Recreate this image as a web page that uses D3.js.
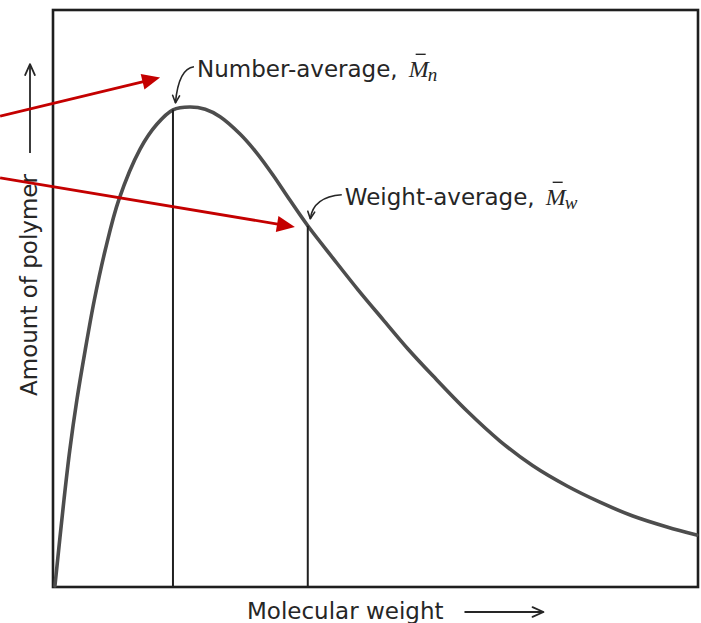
<!DOCTYPE html>
<html><head><meta charset="utf-8">
<script src="https://cdn.jsdelivr.net/npm/d3@7"></script>
<style>html,body{margin:0;padding:0;background:#fff;} svg{display:block}</style>
</head><body>
<svg id="chart" width="701" height="623"></svg>
<script>
// ---- data (arbitrary units) ----
const molecularWeight = [0.3, 1.7, 2.6, 3.7, 5.0, 6.4, 8.1, 10.2, 13.5, 16.1, 18.6, 21.2, 23.6, 25.9, 29.0, 31.6, 34.1, 36.7, 39.5, 43.4, 47.3, 51.2, 55.0, 58.9, 64.2, 69.3, 74.4, 79.7, 84.8, 89.9, 95.2, 99.8];
const amount          = [0.2, 15.1, 23.7, 32.4, 41.1, 49.7, 58.4, 67.1, 75.9, 80.2, 82.7, 83.2, 82.8, 81.5, 78.5, 75.2, 71.4, 67.1, 62.6, 57.0, 51.5, 46.3, 41.3, 36.6, 30.5, 25.3, 21.0, 17.5, 14.7, 12.3, 10.4, 9.0];
const averageNames    = ["Number-average", "Weight-average"];
const averageSymbols  = ["M", "M"];
const averageSubs     = ["n", "w"];
const averageX        = [18.6, 39.5];
const averageY        = [82.7, 62.6];
const xTitle = "Molecular weight";
const yTitle = "Amount of polymer";
// red pointer arrows (data units)
const pointerFromX = [-8.2, -8.2];
const pointerFromY = [81.6, 70.9];
const pointerToX   = [16.6, 37.5];
const pointerToY   = [88.3, 62.4];

// ---- layout ----
const W = 701, H = 623;
const x = d3.scaleLinear().domain([0, 100]).range([53, 698]);
const y = d3.scaleLinear().domain([0, 100]).range([587, 10]);
const labelOffsets = [{dx: 24, dy: -33}, {dx: 37, dy: -21}];
const ink = "#262626";
const sansFont = "DejaVu Sans";
const fs = 23;

const svg = d3.select("#chart");
svg.append("rect").attr("width", W).attr("height", H).attr("fill", "#fff");

// frame
svg.append("rect")
  .attr("x", x(0)).attr("y", y(100))
  .attr("width", x(100) - x(0)).attr("height", y(0) - y(100))
  .attr("fill", "none").attr("stroke", "#1e1e1e").attr("stroke-width", 2.6);

// distribution curve
const pts = molecularWeight.map((m, i) => [m, amount[i]]);
const line = d3.line().x(d => x(d[0])).y(d => y(d[1])).curve(d3.curveCatmullRom.alpha(0.5));
svg.append("path").datum(pts).attr("d", line)
  .attr("fill", "none").attr("stroke", "#4d4d4d").attr("stroke-width", 3.6)
  .attr("stroke-linecap", "round");

// vertical lines at averages
svg.selectAll("line.avg").data(averageX).join("line").attr("class", "avg")
  .attr("x1", d => x(d)).attr("x2", d => x(d))
  .attr("y1", y(0)).attr("y2", (d, i) => y(averageY[i]))
  .attr("stroke", "#202020").attr("stroke-width", 2);

function chevron(g, x1, y1, x2, y2, len, ang, width) {
  const a = Math.atan2(y2 - y1, x2 - x1);
  const p = d3.path();
  p.moveTo(x2 - len * Math.cos(a - ang), y2 - len * Math.sin(a - ang));
  p.lineTo(x2, y2);
  p.lineTo(x2 - len * Math.cos(a + ang), y2 - len * Math.sin(a + ang));
  g.append("path").attr("d", p.toString()).attr("fill", "none")
    .attr("stroke", ink).attr("stroke-width", width).attr("stroke-linecap", "round")
    .attr("stroke-linejoin", "round");
}

// labels
averageNames.forEach((name, i) => {
  const px = x(averageX[i]), py = y(averageY[i]);
  const lx = px + labelOffsets[i].dx, ly = py + labelOffsets[i].dy;
  const t = svg.append("text").attr("x", lx).attr("y", ly)
    .attr("font-family", sansFont).attr("font-size", fs).attr("fill", ink)
    .text(name + ",");
  const len = t.node().getComputedTextLength();
  const mx = lx + len + 11;
  const m = svg.append("text").attr("x", mx).attr("y", ly)
    .attr("font-family", "Liberation Serif").attr("font-style", "italic")
    .attr("font-size", 24).attr("fill", ink).text(averageSymbols[i]);
  const mlen = m.node().getComputedTextLength();
  svg.append("text").attr("x", mx + mlen - 1).attr("y", ly + 4)
    .attr("font-family", "Liberation Serif").attr("font-style", "italic")
    .attr("font-size", 19).attr("fill", ink).text(averageSubs[i]);
  // macron bar
  svg.append("line").attr("x1", mx + 7).attr("x2", mx + 17)
    .attr("y1", ly - 22.5).attr("y2", ly - 22.5)
    .attr("stroke", ink).attr("stroke-width", 1.4);
  // small hooked arrow from label to the point
  const sx = lx - 3, sy = ly - 10;
  const tx = px + 2.5, ty = py - 7;
  const cx = tx + 3, cy = sy + 2;
  const p = d3.path();
  p.moveTo(sx, sy); p.quadraticCurveTo(cx, cy, tx, ty);
  svg.append("path").attr("d", p.toString()).attr("fill", "none")
    .attr("stroke", ink).attr("stroke-width", 1.6);
  chevron(svg, cx, cy, tx, ty, 8, 0.45, 1.6);
});

// x title + arrow
const xt = svg.append("text").attr("x", 247).attr("y", 619)
  .attr("font-family", sansFont).attr("font-size", fs).attr("fill", ink).text(xTitle);
const xEnd = 247 + xt.node().getComputedTextLength();
svg.append("line").attr("x1", xEnd + 21).attr("x2", xEnd + 100)
  .attr("y1", 612).attr("y2", 612).attr("stroke", ink).attr("stroke-width", 1.8);
chevron(svg, xEnd + 21, 612, xEnd + 100, 612, 12, 0.42, 1.8);

// y title + arrow
const yt = svg.append("text")
  .attr("transform", "translate(37,285) rotate(-90)")
  .attr("text-anchor", "middle")
  .attr("font-family", sansFont).attr("font-size", fs).attr("fill", ink).text(yTitle);
const yLen = yt.node().getComputedTextLength();
const yTop = 285 - yLen / 2;
svg.append("line").attr("x1", 30).attr("x2", 30)
  .attr("y1", yTop - 21).attr("y2", yTop - 110).attr("stroke", ink).attr("stroke-width", 1.8);
chevron(svg, 30, yTop - 21, 30, yTop - 110, 12, 0.42, 1.8);

// red pointer arrows
const red = "#c40000";
pointerFromX.forEach((fx, i) => {
  const x1 = x(fx), y1 = y(pointerFromY[i]), x2 = x(pointerToX[i]), y2 = y(pointerToY[i]);
  const a = Math.atan2(y2 - y1, x2 - x1);
  const hl = 18, hw = 8;
  const bx = x2 - hl * Math.cos(a), by = y2 - hl * Math.sin(a);
  svg.append("line").attr("x1", x1).attr("y1", y1).attr("x2", bx + 2 * Math.cos(a)).attr("y2", by + 2 * Math.sin(a))
    .attr("stroke", red).attr("stroke-width", 2.8);
  const poly = [[x2, y2],
    [bx - hw * Math.sin(a), by + hw * Math.cos(a)],
    [bx + hw * Math.sin(a), by - hw * Math.cos(a)]];
  svg.append("polygon").attr("points", poly.map(p => p.join(",")).join(" "))
    .attr("fill", red);
});
</script>
</body></html>
